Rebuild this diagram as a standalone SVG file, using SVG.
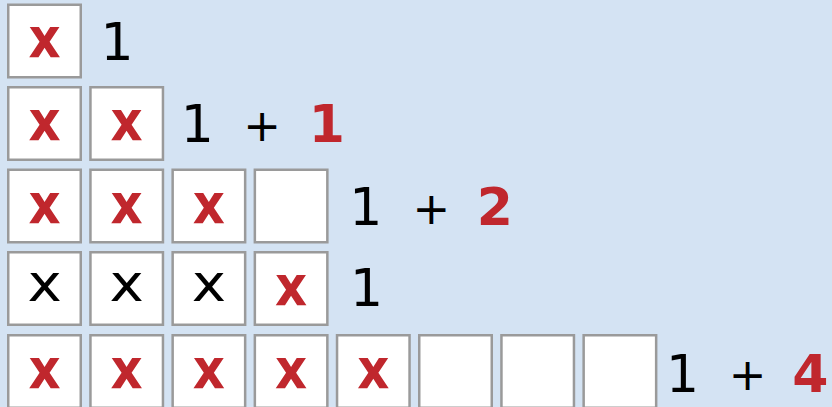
<svg xmlns="http://www.w3.org/2000/svg" width="832" height="407" viewBox="0 0 832 407">
<style>
.bg{fill:#d4e3f3}
.box{fill:#ffffff;stroke:#9a9a9a;stroke-width:2.5}
.xr{font-family:"DejaVu Sans",sans-serif;font-weight:bold;font-size:55px;fill:#c0272d}
.xb{font-family:"DejaVu Sans",sans-serif;font-size:51px;fill:#000000}
.num{font-family:"DejaVu Sans",sans-serif;font-size:52px;fill:#000000;text-anchor:middle}
.plus{font-family:"DejaVu Sans",sans-serif;font-size:45px;fill:#000000;text-anchor:middle}
.rnum{font-family:"DejaVu Sans",sans-serif;font-weight:bold;font-size:52px;fill:#c0272d;text-anchor:middle}
</style>
<rect class="bg" x="0" y="0" width="832" height="407"/>
<g id="row1">
  <g id="r1c1"><rect class="box" x="8.25" y="4.75" width="72.5" height="72.5"/><text class="xr" x="28.4" y="57" textLength="32.2" lengthAdjust="spacingAndGlyphs">x</text></g>
  <g id="r1label"><text class="num" x="117" y="60">1</text></g>
</g>
<g id="row2">
  <g id="r2c1"><rect class="box" x="8.25" y="87.25" width="72.5" height="72.5"/><text class="xr" x="28.4" y="140" textLength="32.2" lengthAdjust="spacingAndGlyphs">x</text></g>
  <g id="r2c2"><rect class="box" x="90.45" y="87.25" width="72.5" height="72.5"/><text class="xr" x="110.6" y="140" textLength="32.2" lengthAdjust="spacingAndGlyphs">x</text></g>
  <g id="r2label"><text class="num" x="197.2" y="141.7">1</text><text class="plus" x="262" y="140.5">+</text><text class="rnum" x="326.8" y="141.7">1</text></g>
</g>
<g id="row3">
  <g id="r3c1"><rect class="box" x="8.25" y="169.75" width="72.5" height="72.5"/><text class="xr" x="28.4" y="222.5" textLength="32.2" lengthAdjust="spacingAndGlyphs">x</text></g>
  <g id="r3c2"><rect class="box" x="90.45" y="169.75" width="72.5" height="72.5"/><text class="xr" x="110.6" y="222.5" textLength="32.2" lengthAdjust="spacingAndGlyphs">x</text></g>
  <g id="r3c3"><rect class="box" x="172.65" y="169.75" width="72.5" height="72.5"/><text class="xr" x="192.8" y="222.5" textLength="32.2" lengthAdjust="spacingAndGlyphs">x</text></g>
  <g id="r3c4"><rect class="box" x="254.85" y="169.75" width="72.5" height="72.5"/></g>
  <g id="r3label"><text class="num" x="365.7" y="225">1</text><text class="plus" x="431.3" y="223.8">+</text><text class="rnum" x="494.8" y="225">2</text></g>
</g>
<g id="row4">
  <g id="r4c1"><rect class="box" x="8.25" y="252.25" width="72.5" height="72.5"/><text class="xb" x="27.4" y="300.5" textLength="34.3" lengthAdjust="spacingAndGlyphs">x</text></g>
  <g id="r4c2"><rect class="box" x="90.45" y="252.25" width="72.5" height="72.5"/><text class="xb" x="109.6" y="300.5" textLength="34.3" lengthAdjust="spacingAndGlyphs">x</text></g>
  <g id="r4c3"><rect class="box" x="172.65" y="252.25" width="72.5" height="72.5"/><text class="xb" x="191.8" y="300.5" textLength="34.3" lengthAdjust="spacingAndGlyphs">x</text></g>
  <g id="r4c4"><rect class="box" x="254.85" y="252.25" width="72.5" height="72.5"/><text class="xr" x="275" y="305" textLength="32.2" lengthAdjust="spacingAndGlyphs">x</text></g>
  <g id="r4label"><text class="num" x="366.5" y="305.5">1</text></g>
</g>
<g id="row5">
  <g id="r5c1"><rect class="box" x="8.25" y="335.25" width="72.5" height="72.5"/><text class="xr" x="28.4" y="388" textLength="32.2" lengthAdjust="spacingAndGlyphs">x</text></g>
  <g id="r5c2"><rect class="box" x="90.45" y="335.25" width="72.5" height="72.5"/><text class="xr" x="110.6" y="388" textLength="32.2" lengthAdjust="spacingAndGlyphs">x</text></g>
  <g id="r5c3"><rect class="box" x="172.65" y="335.25" width="72.5" height="72.5"/><text class="xr" x="192.8" y="388" textLength="32.2" lengthAdjust="spacingAndGlyphs">x</text></g>
  <g id="r5c4"><rect class="box" x="254.85" y="335.25" width="72.5" height="72.5"/><text class="xr" x="275" y="388" textLength="32.2" lengthAdjust="spacingAndGlyphs">x</text></g>
  <g id="r5c5"><rect class="box" x="337.05" y="335.25" width="72.5" height="72.5"/><text class="xr" x="357.2" y="388" textLength="32.2" lengthAdjust="spacingAndGlyphs">x</text></g>
  <g id="r5c6"><rect class="box" x="419.25" y="335.25" width="72.5" height="72.5"/></g>
  <g id="r5c7"><rect class="box" x="501.45" y="335.25" width="72.5" height="72.5"/></g>
  <g id="r5c8"><rect class="box" x="583.65" y="335.25" width="72.5" height="72.5"/></g>
  <g id="r5label"><text class="num" x="682.5" y="391.5">1</text><text class="plus" x="747.5" y="390.3">+</text><text class="rnum" x="810.3" y="391.5">4</text></g>
</g>
<g id="connectors"/>
</svg>
